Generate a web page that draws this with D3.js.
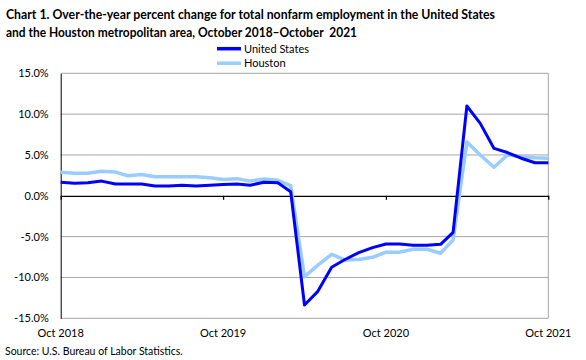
<!DOCTYPE html>
<html><head><meta charset="utf-8">
<script src="https://cdn.jsdelivr.net/npm/d3@7"></script>
<style>body{margin:0;background:#fff}svg{display:block}text{font-family:Lato,"Liberation Sans",sans-serif}</style>
</head><body>
<svg id="c" width="586" height="360"></svg>
<script>
const months = d3.range(37).map(i => new Date(2018, 9 + i, 1));
const tickLabels = ["Oct 2018", "Oct 2019", "Oct 2020", "Oct 2021"];
const yTicks = [15, 10, 5, 0, -5, -10, -15];
const unitedStates = [1.65,1.53,1.6,1.8,1.44,1.44,1.44,1.2,1.2,1.3,1.2,1.3,1.37,1.44,1.3,1.65,1.6,0.5,
  -13.37,-11.7,-8.75,-7.8,-6.96,-6.35,-5.9,-5.9,-6.06,-6.06,-5.94,-4.47,
  11.0,8.87,5.8,5.3,4.6,4.05,4.05];
const houston = [2.87,2.75,2.75,3.0,2.9,2.46,2.6,2.34,2.34,2.34,2.34,2.2,2.0,2.1,1.8,2.05,1.9,1.24,
  -9.9,-8.5,-7.16,-7.86,-7.8,-7.53,-6.9,-6.9,-6.55,-6.55,-7.04,-5.4,
  6.6,5.0,3.5,5.0,4.8,4.67,4.6];
const seriesNames = ["United States", "Houston"];
const colors = ["#0000ff", "#99ccff"];

const svg = d3.select("#c");
const L = 60.7, R = 548.3, T = 73.3, B = 318.3;
const x = d3.scaleTime().domain([months[0], months[36]]).range([L, R]);
const y = d3.scaleLinear().domain([-15, 15]).range([B, T]);

// title
svg.append("text").attr("x", 6).attr("y", 19).attr("font-weight", "bold").attr("font-size", 13)
  .attr("textLength", 489).attr("lengthAdjust", "spacingAndGlyphs")
  .text("Chart 1. Over-the-year percent change for total nonfarm employment in the United States");
svg.append("text").attr("x", 6).attr("y", 37).attr("font-weight", "bold").attr("font-size", 13)
  .style("white-space", "pre")
  .attr("textLength", 351).attr("lengthAdjust", "spacingAndGlyphs")
  .text("and the Houston metropolitan area, October 2018\u2013October  2021");

// gridlines
svg.append("g").selectAll("line").data(yTicks.filter(d => d !== 0)).join("line")
  .attr("x1", L).attr("x2", R).attr("y1", d => y(d)).attr("y2", d => y(d))
  .attr("stroke", "#a6a6a6").attr("stroke-width", 1);
svg.append("line").attr("x1", R).attr("x2", R).attr("y1", T).attr("y2", B).attr("stroke", "#a6a6a6");

// y axis
const ya = svg.append("g").attr("transform", `translate(${L},0)`)
  .call(d3.axisLeft(y).tickValues(yTicks).tickSize(0).tickPadding(12).tickFormat(d => d.toFixed(1) + "%"));
ya.select(".domain").attr("stroke", "#000");
ya.selectAll("text").attr("font-family", "Lato, sans-serif").attr("font-size", 11).attr("fill", "#000");

// zero axis with ticks
const tickDates = [months[0], months[12], months[24], months[36]];
const xa = svg.append("g").attr("transform", `translate(0,${y(0)})`)
  .call(d3.axisBottom(x).tickValues(tickDates).tickSize(4).tickSizeOuter(0).tickFormat(""));
xa.select(".domain").attr("stroke", "#000").attr("stroke-width", 1.3);
xa.selectAll(".tick line").attr("stroke", "#000").attr("stroke-width", 1.3);

// bottom labels
svg.append("g").selectAll("text").data(tickDates).join("text")
  .attr("x", d => x(d)).attr("y", 336.5).attr("text-anchor", "middle").attr("font-size", 11)
  .text((d, i) => tickLabels[i]);

// lines
const line = d3.line().x((d, i) => x(months[i])).y(d => y(d));
svg.append("path").datum(houston).attr("d", line).attr("fill", "none")
  .attr("stroke", colors[1]).attr("stroke-width", 3.5).attr("stroke-linejoin", "round");
svg.append("path").datum(unitedStates).attr("d", line).attr("fill", "none")
  .attr("stroke", colors[0]).attr("stroke-width", 3).attr("stroke-linejoin", "round");

// legend
const lg = svg.append("g");
seriesNames.forEach((n, i) => {
  const yy = 48.7 + i * 14.5;
  lg.append("line").attr("x1", 217).attr("x2", 241).attr("y1", yy).attr("y2", yy)
    .attr("stroke", colors[i]).attr("stroke-width", 3.5);
  lg.append("text").attr("x", 244).attr("y", yy + 4).attr("font-size", 11).text(n);
});

// source
svg.append("text").attr("x", 5).attr("y", 355).attr("font-size", 10.5)
  .text("Source: U.S. Bureau of Labor Statistics.");
</script>
</body></html>
